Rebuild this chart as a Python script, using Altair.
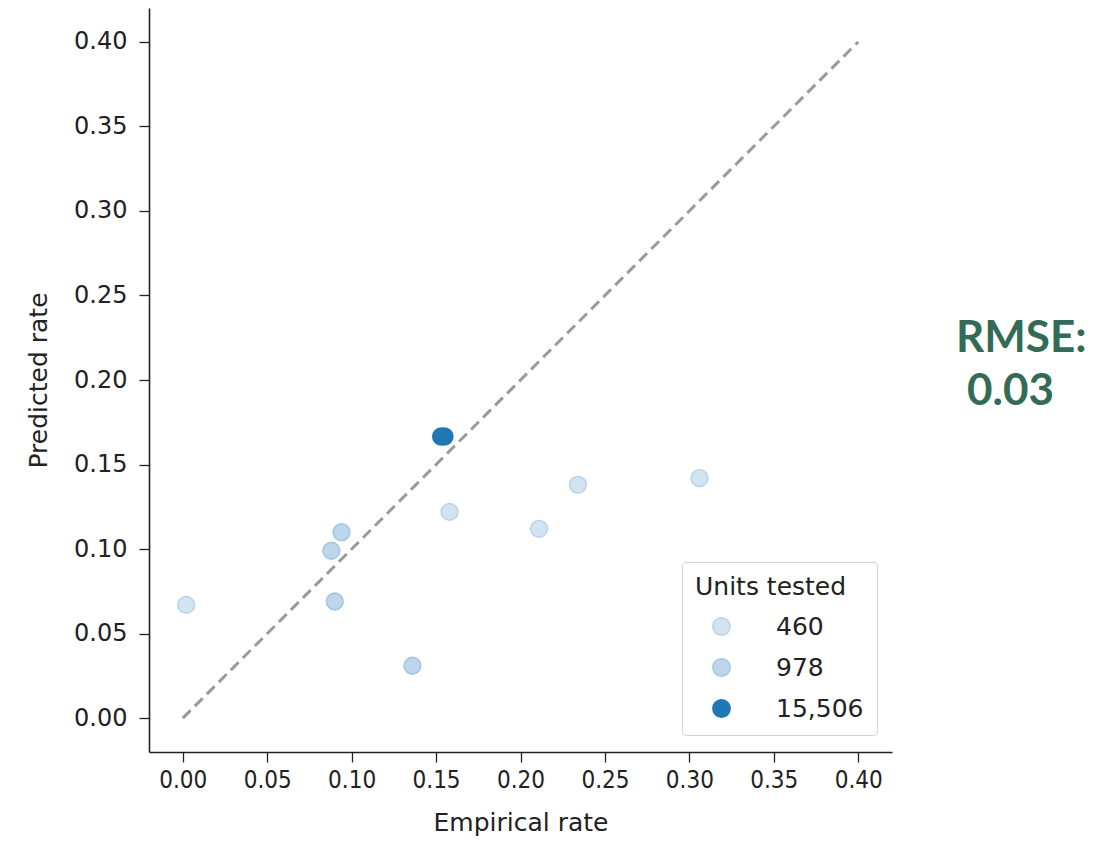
import altair as alt
import pandas as pd

# Data
empirical = [0.002, 0.090, 0.088, 0.094, 0.136, 0.153, 0.155, 0.158, 0.211, 0.234, 0.306]
predicted = [0.067, 0.069, 0.099, 0.110, 0.031, 0.1666, 0.1666, 0.122, 0.112, 0.138, 0.142]
units = ["460", "978", "978", "978", "978", "15,506", "15,506", "460", "460", "460", "460"]

unit_levels = ["460", "978", "15,506"]
unit_fill = ["#d3e4f1", "#bdd6eb", "#1f77b4"]
unit_edge = ["#b9d3e9", "#a3c6e3", "#1f77b4"]

diag_x = [0.0, 0.4]
diag_y = [0.0, 0.4]

tick_values = [0.0, 0.05, 0.10, 0.15, 0.20, 0.25, 0.30, 0.35, 0.40]

rmse_lines = ["RMSE:", "0.03"]

pts = pd.DataFrame({"emp": empirical, "pred": predicted, "units": units})
diag = pd.DataFrame({"emp": diag_x, "pred": diag_y})

xscale = alt.Scale(domain=[-0.02, 0.42], nice=False, zero=False)
yscale = alt.Scale(domain=[-0.02, 0.42], nice=False, zero=False)

xaxis = alt.Axis(
    values=tick_values, format=".2f", grid=False,
    labelFont="DejaVu Sans Condensed, Roboto, sans-serif", labelFontSize=24, labelColor="#222222",
    labelPadding=6, tickSize=10, tickWidth=1.3, tickColor="#222222",
    domainColor="#222222", domainWidth=1.6,
    title="Empirical rate", titleFont="DejaVu Sans", titleFontSize=25,
    titleFontWeight="normal", titleColor="#222222", titlePadding=18,
)
yaxis = alt.Axis(
    values=tick_values, format=".2f", grid=False,
    labelFont="DejaVu Sans", labelFontSize=24, labelColor="#222222",
    labelPadding=12, tickSize=10, tickWidth=1.3, tickColor="#222222",
    domainColor="#222222", domainWidth=1.6,
    title="Predicted rate", titleFont="DejaVu Sans", titleFontSize=25,
    titleFontWeight="normal", titleColor="#222222", titlePadding=22,
)

line = alt.Chart(diag).mark_line(
    color="#9a9a9a", strokeWidth=3, strokeDash=[11, 6]
).encode(
    x=alt.X("emp:Q", scale=xscale, axis=xaxis),
    y=alt.Y("pred:Q", scale=yscale, axis=yaxis),
)

points = alt.Chart(pts).mark_point(
    filled=True, shape="circle", size=280, strokeWidth=1.6, opacity=1
).encode(
    x=alt.X("emp:Q", scale=xscale),
    y=alt.Y("pred:Q", scale=yscale),
    fill=alt.Fill("units:N", scale=alt.Scale(domain=unit_levels, range=unit_fill),
                  sort=unit_levels,
                  legend=alt.Legend(title="Units tested")),
    stroke=alt.Stroke("units:N", scale=alt.Scale(domain=unit_levels, range=unit_edge),
                      sort=unit_levels, legend=alt.Legend(title="Units tested")),
)

txt_df = pd.DataFrame({"t": rmse_lines})
rmse1 = alt.Chart(txt_df).transform_filter(alt.datum.t == rmse_lines[0]).mark_text(
    font="Lato", fontWeight="bold", fontSize=44, color="#336b57",
    align="left", baseline="alphabetic"
).encode(x=alt.value(807), y=alt.value(344), text="t:N")
rmse2 = alt.Chart(txt_df).transform_filter(alt.datum.t == rmse_lines[1]).mark_text(
    font="Lato", fontWeight="bold", fontSize=44, color="#336b57",
    align="left", baseline="alphabetic"
).encode(x=alt.value(818), y=alt.value(397), text="t:N")

chart = alt.layer(line, points, rmse1, rmse2).properties(
    width=743, height=744,
    autosize=alt.AutoSizeParams(type="none"),
    padding={"left": 141, "top": 0, "right": 212, "bottom": 89},
).configure_view(stroke=None).configure_legend(
    orient="none", legendX=533, legendY=554,
    strokeColor="#d0d0d0", fillColor="white", cornerRadius=4, padding=13,
    titleFont="DejaVu Sans", titleFontSize=25, titleFontWeight="normal", titleColor="#222222",
    titlePadding=14,
    labelFont="DejaVu Sans", labelFontSize=25, labelColor="#222222",
    symbolSize=300, symbolStrokeWidth=1.5, symbolOffset=14, labelOffset=42,
    rowPadding=15,
)

chart.save("out.html", embed_options={"renderer": "svg", "actions": False})
